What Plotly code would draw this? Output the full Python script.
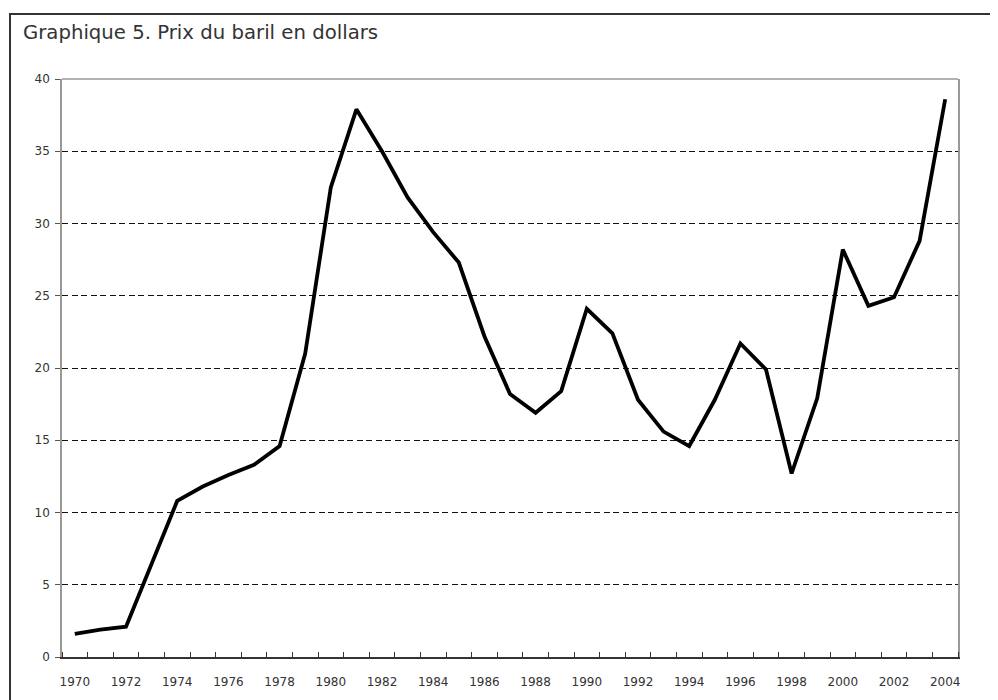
import plotly.graph_objects as go

years = list(range(1970, 2005))
prices = [1.6, 1.9, 2.1, 6.5, 10.8, 11.8, 12.6, 13.3, 14.6, 21.0,
          32.5, 37.9, 35.0, 31.8, 29.4, 27.3, 22.2, 18.2, 16.9, 18.4,
          24.1, 22.4, 17.8, 15.6, 14.6, 17.8, 21.7, 19.9, 12.7, 17.9,
          28.2, 24.3, 24.9, 28.8, 38.6]
x_labels = [str(y) for y in years[::2]]
y_ticks = [0, 5, 10, 15, 20, 25, 30, 35, 40]
title = "Graphique 5. Prix du baril en dollars"

O = 8  # default page body margin
W, H = 998 - O, 700 - O
L, R, T, B = 62 - O, 958 - O, 79 - O, 657 - O

def px_x(p):
    return (p - O - L) / (R - L)

def px_y(p):
    return (B - (p - O)) / (B - T)

fig = go.Figure()
fig.add_trace(go.Scatter(x=years, y=prices, mode="lines",
                         line=dict(color="black", width=3.8),
                         hoverinfo="x+y", showlegend=False))

fig.update_layout(
    width=W, height=H,
    margin=dict(l=L, r=W - R, t=T, b=H - B, pad=0),
    paper_bgcolor="white", plot_bgcolor="white",
    font=dict(family="DejaVu Sans", color="#333"),
    xaxis=dict(
        range=[1969.5, 2004.5],
        tickvals=years[::2], ticktext=x_labels,
        ticks="", showgrid=False, zeroline=False,
        showline=True, linecolor="#333", linewidth=1.5,
        tickfont=dict(size=12, color="#333"),
        ticklabelstandoff=13,
        minor=dict(tick0=1969.5, dtick=1, ticks="inside", ticklen=5,
                   tickcolor="#333", tickwidth=1, showgrid=False),
        fixedrange=True,
    ),
    yaxis=dict(
        range=[0, 40], tickvals=y_ticks,
        ticks="outside", ticklen=5, tickcolor="#555",
        showgrid=True, gridcolor="#111", gridwidth=1, griddash="6px,3.5px",
        zeroline=False,
        showline=True, mirror=True, linecolor="#999", linewidth=1.5,
        tickfont=dict(size=12, color="#333"),
        ticklabelstandoff=3,
        fixedrange=True,
    ),
    shapes=[
        dict(type="line", xref="paper", yref="paper", x0=0, x1=1, y0=1, y1=1,
             line=dict(color="#999", width=1.5), layer="above"),
        dict(type="rect", xref="paper", yref="paper",
             x0=px_x(10), x1=px_x(1010), y0=px_y(14), y1=px_y(720),
             line=dict(color="#333", width=2), layer="above"),
    ],
    annotations=[
        dict(text=title, xref="paper", yref="paper",
             x=px_x(21), y=px_y(33), xanchor="left", yanchor="middle",
             showarrow=False, font=dict(size=19.7, color="#333", family="DejaVu Sans")),
    ],
)

fig.write_html("out.html")
